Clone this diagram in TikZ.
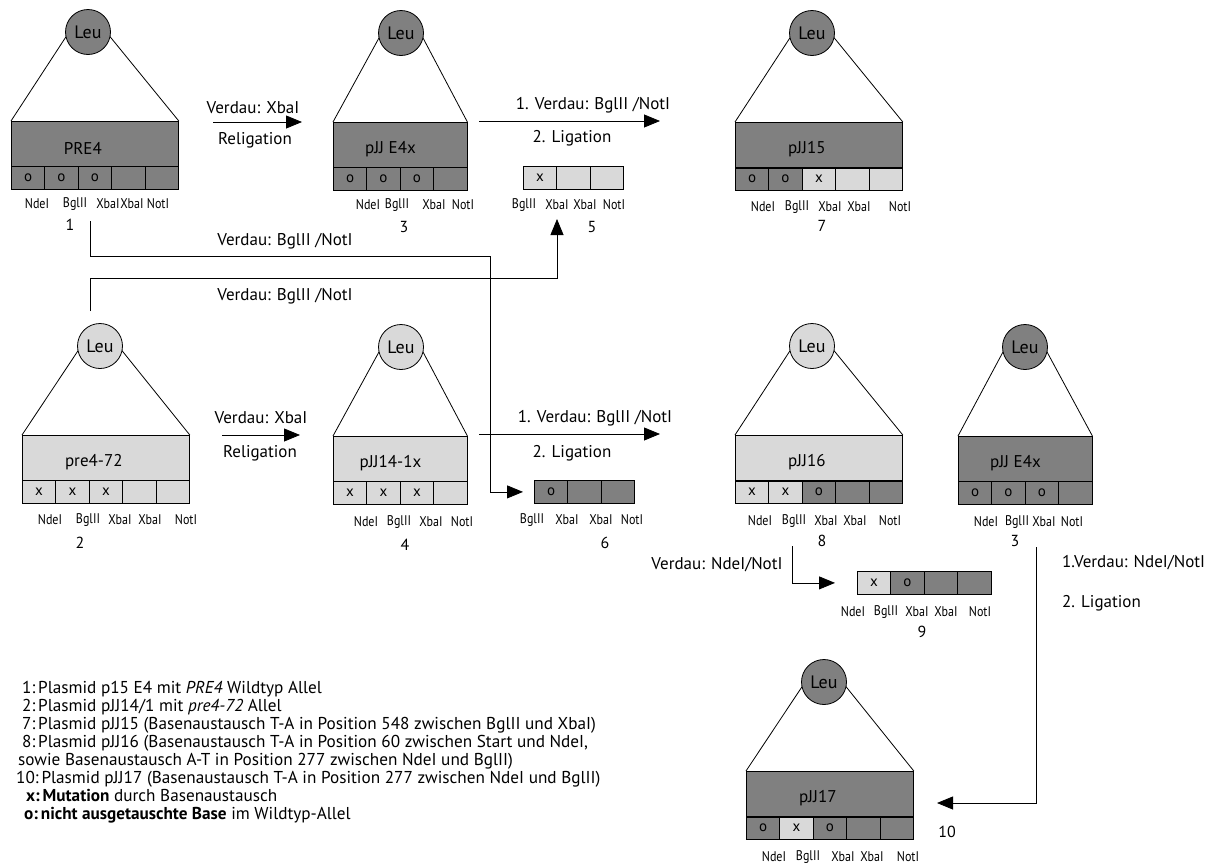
\documentclass[tikz,border=0pt]{standalone}
\usepackage{fontspec}
\setmainfont{PT Sans}
\newfontfamily\narrowsans[FakeStretch=0.86]{PT Sans}
\usetikzlibrary{arrows.meta}
\definecolor{dk}{RGB}{128,128,128}
\definecolor{lt}{RGB}{217,217,217}
\tikzset{
  leu/.style={circle, draw, line width=0.8pt, minimum size=45pt, inner sep=0pt, font=\fontsize{18}{20}\selectfont},
  body/.style={draw, line width=0.8pt, minimum height=45pt, inner sep=0pt, anchor=north west},
  bodytxt/.style={inner sep=0pt, font=\fontsize{17}{19}\selectfont},
  cell/.style={draw, line width=0.8pt, minimum width=33.4pt, minimum height=23pt, inner sep=0pt, anchor=north west, font=\fontsize{15}{17}\selectfont},
  site/.style={inner sep=0pt, font=\narrowsans\fontsize{14}{16}\selectfont},
  num/.style={inner sep=0pt, font=\fontsize{16}{18}\selectfont},
  lbl/.style={inner sep=0pt, font=\fontsize{17}{19}\selectfont},
  leg/.style={inner sep=0pt, anchor=base west, font=\fontsize{17.2}{18}\selectfont},
  conn/.style={line width=0.8pt},
  arr/.style={conn, -{Triangle[length=16pt,width=13pt]}},
}
% #1 name, #2 left, #3 top, #4 cells, #5 circle x, #6 leu colour, #7 body colour, #8 text, #9 cells
\newcommand\plasmid[9]{%
  \node[body, fill=#7, minimum width={#4*33.4pt}] (#1) at (#2,#3) {};
  \node[bodytxt] (#1t) at ({#2+#4*33.4*0.43},{#3+27}) {#8};
  \foreach[count=\i] \cc/\mm in {#9}{\node[cell, fill=\cc] (#1-\i) at ({#2+(\i-1)*33.4},{#3+45}) {\mm};}
  \draw[conn] ({#5-21.5},{#3-85}) -- (#1.north west);
  \draw[conn] ({#5+21.5},{#3-85}) -- (#1.north east);
  \node[leu, fill=#6] (#1c) at (#5,{#3-89}) {Leu};
}
% #1 name, #2 left, #3 top, #4 cells
\newcommand\fragment[4]{%
  \foreach[count=\i] \cc/\mm in {#4}{\node[cell, fill=\cc] (#1-\i) at ({#2+(\i-1)*33.4},{#3}) {\mm};}
}
% #1 name, #2 y, #3 list x/text
\newcommand\sites[3]{%
  \foreach[count=\i] \x/\t in {#3}{\node[site] (#1s\i) at (\x,#2) {\t};}
}
\begin{document}
\begin{tikzpicture}[x=1pt,y=-1pt]
\useasboundingbox (0,0) rectangle (1213,865);

% row 1
\plasmid{p1}{11}{121}{5}{88}{dk}{dk}{PRE4}{dk/o,dk/o,dk/o,dk/,dk/}
\sites{p1}{204}{37/NdeI,75/BglII,108/XbaI,132/XbaI,158/NotI}
\node[num] (n1) at (70,225) {1};

\plasmid{p3}{333}{122}{4}{401}{dk}{dk}{pJJ E4x}{dk/o,dk/o,dk/o,dk/}
\sites{p3}{205}{368/NdeI,397/BglII,434/XbaI,463/NotI}
\node[num] (n3) at (404,227) {3};

\fragment{f5}{523}{166}{lt/x,lt/,lt/}
\sites{f5}{205}{524/BglII,557/XbaI,585/XbaI,614/NotI}
\node[num] (n5) at (592,227) {5};

\plasmid{p7}{735}{122}{5}{812}{dk}{dk}{pJJ15}{dk/o,dk/o,lt/x,lt/,lt/}
\draw[line width=1.6pt] (p7.south west) -- (p7.south east);
\sites{p7}{207}{763/NdeI,797/BglII,830/XbaI,859/XbaI,900/NotI}
\node[num] (n7) at (822,226) {7};

% row 2
\plasmid{p2}{22}{435}{5}{100}{lt}{lt}{pre4-72}{lt/x,lt/x,lt/x,lt/,lt/}
\sites{p2}{520}{50/NdeI,88/BglII,120/XbaI,150/XbaI,186/NotI}
\node[num] (n2) at (80,543) {2};

\plasmid{p4}{333}{436}{4}{401}{lt}{lt}{pJJ14-1x}{lt/x,lt/x,lt/x,lt/}
\sites{p4}{522}{366/NdeI,399/BglII,431/XbaI,462/NotI}
\node[num] (n4) at (405,545) {4};

\fragment{f6}{534}{480}{dk/o,dk/,dk/}
\sites{f6}{520}{532/BglII,567/XbaI,601/XbaI,632/NotI}
\node[num] (n6) at (605,543) {6};

\plasmid{p8}{735}{435}{5}{812}{lt}{lt}{pJJ16}{lt/x,lt/x,dk/o,dk/,dk/}
\draw[line width=1.6pt] (p8.south west) -- (p8.south east);
\sites{p8}{521}{760/NdeI,794/BglII,826/XbaI,855/XbaI,890/NotI}
\node[num] (n8) at (822,541) {8};

\plasmid{q3}{958}{436}{4}{1025}{dk}{dk}{pJJ E4x}{dk/o,dk/o,dk/o,dk/}
\sites{q3}{522}{986/NdeI,1017/BglII,1044/XbaI,1072/NotI}
\node[num] (nq3) at (1015,541) {3};

\fragment{f9}{857}{571}{lt/x,dk/o,dk/,dk/}
\sites{f9}{612}{853/NdeI,886/BglII,917/XbaI,946/XbaI,980/NotI}
\node[num] (n9) at (922,632) {9};

% row 3
\plasmid{p10}{746}{771}{5}{824}{dk}{dk}{pJJ17}{dk/o,lt/x,dk/o,dk/,dk/}
\draw[line width=1.6pt] (p10.south west) -- (p10.south east);
\sites{p10}{857}{774/NdeI,808/BglII,843/XbaI,872/XbaI,908/NotI}
\node[num] (n10) at (947,832) {10};

% process arrows
\coordinate (a1s) at (213,122); \coordinate (a1e) at (302,122);
\draw[arr] (a1s) -- (a1e);
\node[lbl] (t1) at (253,108) {Verdau: XbaI};
\node[lbl] (t2) at (255,140) {Religation};

\coordinate (a2s) at (479,121); \coordinate (a2e) at (660,121);
\draw[arr] (a2s) -- (a2e);
\node[lbl] (t3) at (593,105) {1. Verdau: BglII /NotI};
\node[lbl] (t4) at (572,138) {2. Ligation};

\coordinate (a3s) at (222,435); \coordinate (a3e) at (300,435);
\draw[arr] (a3s) -- (a3e);
\node[lbl] (t5) at (261,418) {Verdau: XbaI};
\node[lbl] (t6) at (260,453) {Religation};

\coordinate (a4s) at (479,434); \coordinate (a4e) at (660,434);
\draw[arr] (a4s) -- (a4e);
\node[lbl] (t7) at (595,418) {1. Verdau: BglII /NotI};
\node[lbl] (t8) at (572,453) {2. Ligation};

% long connectors
\coordinate (c1s) at (90,221);
\draw[arr] (c1s) |- (490,256) |- ([xshift=-11pt]f6-1.west);
\node[lbl] (t9) at (285,241) {Verdau: BglII /NotI};

\coordinate (c2s) at (90,311);
\draw[arr] (c2s) |- (557,278) -- (557,219);
\node[lbl] (t10) at (285,296) {Verdau: BglII /NotI};

\coordinate (c3s) at (792,546);
\draw[arr] (c3s) |- ([xshift=-22pt]f9-1.west);
\node[lbl] (t11) at (717,565) {Verdau: NdeI/NotI};

\coordinate (c4s) at (1036,547);
\draw[arr] (c4s) |- (937,803);
\node[lbl, anchor=west] (t12) at (1062,563) {1.Verdau: NdeI/NotI};
\node[lbl, anchor=west] (t13) at (1062,603) {2. Ligation};

% legend
\node[leg] (l1) at (22,693) {1:\,Plasmid p15 E4 mit \textit{PRE4} Wildtyp Allel};
\node[leg] (l2) at (22,711) {2:\,Plasmid pJJ14/1 mit \textit{pre4-72} Allel};
\node[leg] (l3) at (22,729) {7:\,Plasmid pJJ15 (Basenaustausch T-A in Position 548 zwischen BglII und XbaI)};
\node[leg] (l4) at (22,747) {8:\,Plasmid pJJ16 (Basenaustausch T-A in Position 60 zwischen Start und NdeI,};
\node[leg] (l5) at (18,765) {sowie Basenaustausch A-T in Position 277 zwischen NdeI und BglII)};
\node[leg] (l6) at (16,783) {10:\,Plasmid pJJ17 (Basenaustausch T-A in Position 277 zwischen NdeI und BglII)};
\node[leg] (l7) at (26,801) {\textbf{x:\,Mutation} durch Basenaustausch};
\node[leg] (l8) at (24,819) {\textbf{o:\,nicht ausgetauschte Base} im Wildtyp-Allel};
\end{tikzpicture}
\end{document}
